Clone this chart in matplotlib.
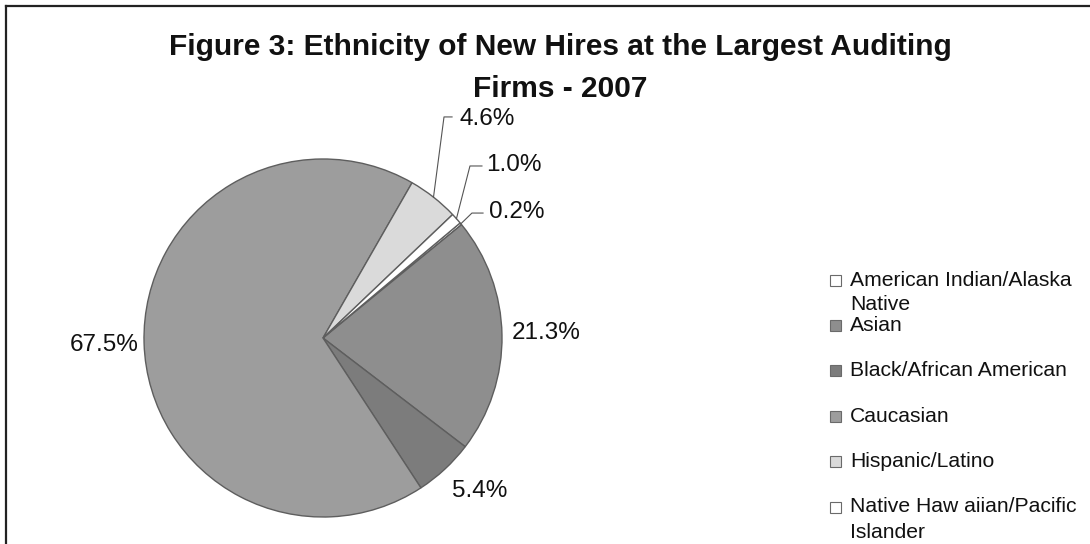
import numpy as np
import matplotlib
matplotlib.use("Agg")
import matplotlib.pyplot as plt
from matplotlib.patches import Rectangle
from matplotlib.lines import Line2D

plt.rcParams['font.family'] = ['Liberation Sans', 'DejaVu Sans']

# ---- data ----
categories = ["American Indian/Alaska Native", "Asian", "Black/African American",
              "Caucasian", "Hispanic/Latino", "Native Hawaiian/Pacific Islander"]
legend_lines = [["American Indian/Alaska", "Native"], ["Asian"], ["Black/African American"],
                ["Caucasian"], ["Hispanic/Latino"], ["Native Haw aiian/Pacific", "Islander"]]
values = [0.2, 21.3, 5.4, 67.5, 4.6, 1.0]
pct_labels = ["0.2%", "21.3%", "5.4%", "67.5%", "4.6%", "1.0%"]
colors = ["#ffffff", "#8e8e8e", "#7c7c7c", "#9d9d9d", "#dadada", "#ffffff"]
title_lines = ["Figure 3: Ethnicity of New Hires at the Largest Auditing", "Firms - 2007"]

W, H = 1090, 544
fig = plt.figure(figsize=(W / 100, H / 100), dpi=100)
fig.patch.set_facecolor("white")

cx, cy, R = 323, 338, 179
ax = fig.add_axes([(cx - R) / W, (H - cy - R) / H, 2 * R / W, 2 * R / H])
wedges, _ = ax.pie(values, colors=colors, startangle=40, counterclock=False,
                   wedgeprops=dict(edgecolor="#5e5e5e", linewidth=1.0))
ax.set_xlim(-1, 1)
ax.set_ylim(-1, 1)
ax.set_axis_off()

# label layout: (text x, text y, ha, elbow x, elbow y, end x) ; None for no leader
layout = {
    0: (0.927, 0.704, "left", 0.832, 0.698, 0.894),
    1: (1.056, 0.028, "left", None, None, None),
    2: (0.721, -0.855, "left", None, None, None),
    3: (-1.028, -0.039, "right", None, None, None),
    4: (0.760, 1.223, "left", 0.676, 1.235, 0.721),
    5: (0.914, 0.966, "left", 0.821, 0.961, 0.888),
}
for i, w in enumerate(wedges):
    tx, ty, ha, ex, ey, endx = layout[i]
    if ex is not None:
        theta = np.deg2rad((w.theta1 + w.theta2) / 2)
        px, py = np.cos(theta), np.sin(theta)
        ax.add_line(Line2D([px, ex, endx], [py, ey, ey], color="#555555",
                           linewidth=0.8, clip_on=False))
    ax.text(tx, ty, pct_labels[i], ha=ha, va="center", fontsize=17.5,
            color="#111111", clip_on=False)

# title
fig.text(560 / W, 1 - 47 / H, title_lines[0], ha="center", va="center",
         fontsize=21.5, fontweight="bold", color="#111111")
fig.text(560 / W, 1 - 89 / H, title_lines[1], ha="center", va="center",
         fontsize=21.5, fontweight="bold", color="#111111")

# legend (manual, Excel-style wrapping)
row0, step, lstep = 280, 45.4, 25
for i, lines in enumerate(legend_lines):
    yc = row0 + step * i
    fig.patches.append(Rectangle((830 / W, 1 - (yc + 5.5) / H), 11 / W, 11 / H,
                                 transform=fig.transFigure, facecolor=colors[i],
                                 edgecolor="#6a6a6a", linewidth=0.8))
    for k, line in enumerate(lines):
        fig.text(850 / W, 1 - (yc + k * lstep) / H, line, ha="left", va="center",
                 fontsize=15.2, color="#111111")

# frame (left and top edges)
fig.lines.append(Line2D([6 / W, 6 / W], [0, 1 - 6 / H], transform=fig.transFigure,
                        color="#222222", linewidth=1.6))
fig.lines.append(Line2D([6 / W, 1], [1 - 6 / H, 1 - 6 / H], transform=fig.transFigure,
                        color="#222222", linewidth=1.6))

fig.savefig("out.png", dpi=100, facecolor="white")
